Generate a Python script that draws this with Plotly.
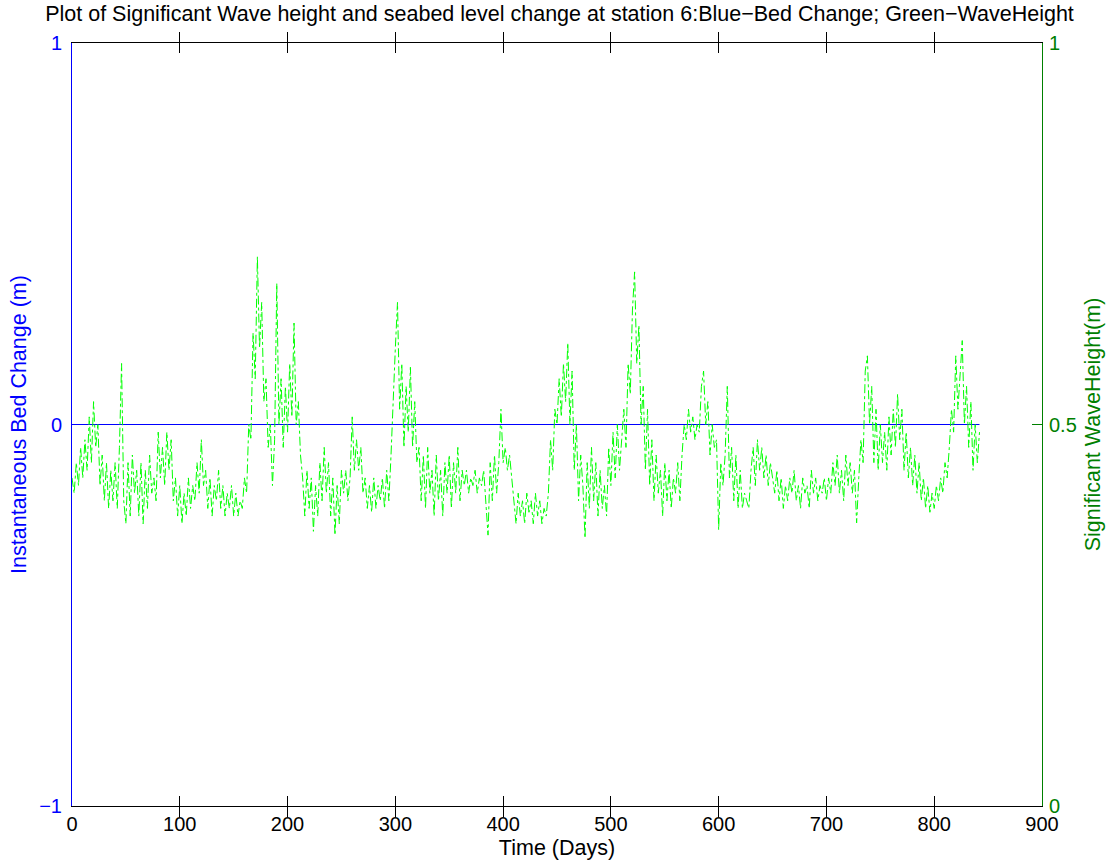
import numpy as np
import plotly.graph_objects as go

# Significant wave height (m), read every 2 days from the reference
hs_000 = [0.43, 0.41, 0.45, 0.42, 0.47, 0.43, 0.48, 0.44, 0.51, 0.45, 0.53, 0.47, 0.50,
          0.42, 0.46, 0.40, 0.45, 0.39, 0.44, 0.40, 0.45, 0.39, 0.47, 0.58, 0.40]
hs_050 = [0.37, 0.45, 0.38, 0.46, 0.41, 0.44, 0.38, 0.45, 0.37, 0.44, 0.39, 0.46, 0.41,
          0.43, 0.40, 0.49, 0.43, 0.47, 0.42, 0.49, 0.44, 0.48, 0.40, 0.43, 0.38]
hs_100 = [0.42, 0.37, 0.41, 0.38, 0.43, 0.39, 0.42, 0.40, 0.45, 0.41, 0.48, 0.42, 0.44,
          0.39, 0.43, 0.38, 0.42, 0.40, 0.44, 0.39, 0.42, 0.38, 0.41, 0.39, 0.42]
hs_150 = [0.38, 0.41, 0.38, 0.40, 0.39, 0.43, 0.41, 0.50, 0.48, 0.62, 0.56, 0.72, 0.60,
          0.66, 0.53, 0.56, 0.47, 0.50, 0.42, 0.48, 0.685, 0.50, 0.56, 0.47, 0.55]
hs_200 = [0.49, 0.58, 0.51, 0.633, 0.50, 0.53, 0.46, 0.43, 0.38, 0.44, 0.39, 0.43, 0.36,
          0.42, 0.38, 0.45, 0.40, 0.47, 0.41, 0.45, 0.38, 0.43, 0.355, 0.42, 0.37]
hs_250 = [0.44, 0.41, 0.44, 0.40, 0.43, 0.51, 0.44, 0.48, 0.44, 0.47, 0.41, 0.43, 0.39,
          0.42, 0.385, 0.43, 0.39, 0.42, 0.40, 0.43, 0.39, 0.44, 0.40, 0.46, 0.54]
hs_300 = [0.60, 0.66, 0.52, 0.58, 0.47, 0.55, 0.49, 0.575, 0.47, 0.53, 0.45, 0.47, 0.40,
          0.46, 0.39, 0.47, 0.41, 0.44, 0.38, 0.46, 0.40, 0.44, 0.38, 0.45, 0.41]
hs_350 = [0.46, 0.39, 0.45, 0.41, 0.47, 0.40, 0.44, 0.42, 0.44, 0.41, 0.43, 0.42, 0.44,
          0.41, 0.43, 0.42, 0.44, 0.40, 0.355, 0.45, 0.40, 0.46, 0.41, 0.45, 0.52]
hs_400 = [0.45, 0.47, 0.44, 0.46, 0.43, 0.40, 0.37, 0.41, 0.38, 0.40, 0.37, 0.41, 0.385,
          0.40, 0.37, 0.41, 0.38, 0.40, 0.37, 0.39, 0.38, 0.41, 0.48, 0.44, 0.52]
hs_450 = [0.50, 0.56, 0.51, 0.58, 0.53, 0.607, 0.50, 0.57, 0.44, 0.50, 0.40, 0.46, 0.42,
          0.351, 0.45, 0.39, 0.47, 0.40, 0.45, 0.38, 0.44, 0.39, 0.42, 0.38, 0.47]
hs_500 = [0.42, 0.49, 0.43, 0.50, 0.44, 0.48, 0.52, 0.47, 0.58, 0.54, 0.65, 0.70, 0.58,
          0.63, 0.50, 0.55, 0.44, 0.52, 0.42, 0.48, 0.40, 0.46, 0.41, 0.44, 0.38]
hs_550 = [0.45, 0.40, 0.44, 0.39, 0.43, 0.41, 0.45, 0.40, 0.46, 0.50, 0.48, 0.52, 0.49,
          0.51, 0.48, 0.50, 0.49, 0.55, 0.57, 0.50, 0.53, 0.46, 0.50, 0.47, 0.48]
hs_600 = [0.362, 0.45, 0.42, 0.46, 0.55, 0.43, 0.47, 0.40, 0.46, 0.39, 0.44, 0.39, 0.41,
          0.40, 0.39, 0.44, 0.47, 0.42, 0.48, 0.44, 0.47, 0.43, 0.46, 0.42, 0.45]
hs_650 = [0.43, 0.41, 0.44, 0.40, 0.43, 0.39, 0.42, 0.40, 0.43, 0.41, 0.44, 0.40, 0.42,
          0.39, 0.43, 0.41, 0.42, 0.39, 0.44, 0.41, 0.43, 0.40, 0.42, 0.41, 0.43]
hs_700 = [0.40, 0.43, 0.41, 0.45, 0.42, 0.46, 0.41, 0.44, 0.40, 0.46, 0.42, 0.45, 0.41,
          0.44, 0.371, 0.43, 0.48, 0.45, 0.57, 0.59, 0.50, 0.55, 0.45, 0.52, 0.44]
hs_750 = [0.50, 0.45, 0.49, 0.44, 0.51, 0.46, 0.52, 0.47, 0.54, 0.48, 0.52, 0.44, 0.49,
          0.43, 0.47, 0.42, 0.46, 0.41, 0.45, 0.40, 0.43, 0.39, 0.42, 0.385, 0.41]
hs_800 = [0.39, 0.42, 0.40, 0.43, 0.41, 0.45, 0.43, 0.47, 0.52, 0.49, 0.59, 0.52, 0.56,
          0.61, 0.50, 0.55, 0.47, 0.53, 0.44, 0.50, 0.45, 0.49]

wave_height = (hs_000 + hs_050 + hs_100 + hs_150 + hs_200 + hs_250 + hs_300 + hs_350 +
               hs_400 + hs_450 + hs_500 + hs_550 + hs_600 + hs_650 + hs_700 + hs_750 + hs_800)
day_step = 2
time_days = np.arange(len(wave_height)) * day_step
bed_change = [0.0] * len(wave_height)

x_ticks = list(range(0, 901, 100))
left_ticks = [-1, 0, 1]
right_ticks = [0, 0.5, 1]

title_text = ("Plot of Significant Wave height and seabed level change at station "
              "6:Blue\u2212Bed Change; Green\u2212WaveHeight")

BLUE = "#0000ff"
GREEN_LINE = "#00ff00"
GREEN_AX = "#008000"
FONT = "Liberation Sans, Arial, Helvetica, sans-serif"
TICK_SIZE = 20
LABEL_SIZE = 21.5

fig = go.Figure()
fig.add_trace(go.Scatter(x=time_days, y=bed_change, mode="lines",
                         line=dict(color=BLUE, width=1), yaxis="y", hoverinfo="skip"))
fig.add_trace(go.Scatter(x=time_days, y=wave_height, mode="lines",
                         line=dict(color=GREEN_LINE, width=1, dash="dashdot"),
                         yaxis="y2", hoverinfo="skip"))

fig.update_layout(
    width=1113, height=867,
    margin=dict(l=72, r=71, t=43, b=61, autoexpand=False),
    paper_bgcolor="white", plot_bgcolor="white",
    showlegend=False,
    font=dict(family=FONT, size=TICK_SIZE, color="black"),
    title=dict(text=title_text, x=(42 + 1077) / 2 / 1113, xanchor="center",
               y=1 - 13 / 867, yanchor="middle", font=dict(size=LABEL_SIZE, color="black"),
               automargin=False),
    xaxis=dict(range=[0, 900], tickvals=x_ticks, ticks="inside", ticklen=10,
               tickcolor="black", showline=True, linecolor="black", linewidth=1,
               mirror="allticks", showgrid=False, zeroline=False, automargin=False,
               tickfont=dict(size=TICK_SIZE, color="black"),
               title=dict(text="Time (Days)", font=dict(size=LABEL_SIZE, color="black"),
                          standoff=5)),
    yaxis=dict(range=[-1, 1], tickvals=left_ticks, ticks="inside", ticklen=10,
               tickcolor=BLUE, showline=True, linecolor=BLUE, linewidth=1,
               showgrid=False, zeroline=False, ticklabelstandoff=5, automargin=False,
               tickfont=dict(size=TICK_SIZE, color=BLUE),
               title=dict(text="Instantaneous Bed Change (m)",
                          font=dict(size=LABEL_SIZE, color=BLUE), standoff=6)),
    yaxis2=dict(range=[0, 1], tickvals=right_ticks, overlaying="y", side="right",
                ticks="inside", ticklen=10, tickcolor=GREEN_AX, showline=True,
                linecolor=GREEN_AX, linewidth=1, showgrid=False, zeroline=False,
                ticklabelstandoff=2, automargin=False,
                tickfont=dict(size=TICK_SIZE, color=GREEN_AX),
                title=dict(text="Significant WaveHeight(m)",
                           font=dict(size=LABEL_SIZE, color=GREEN_AX), standoff=9)),
)

fig.write_html("out.html")
